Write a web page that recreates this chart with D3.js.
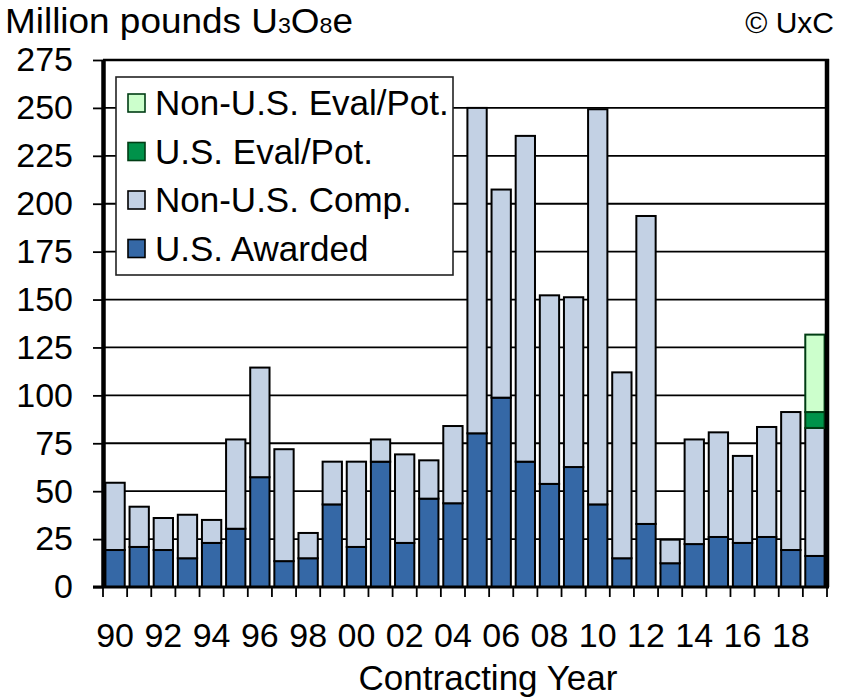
<!DOCTYPE html>
<html>
<head>
<meta charset="utf-8">
<script src="https://d3js.org/d3.v7.min.js"></script>
<style>
  body { margin: 0; background: #fff; }
  text { font-family: "Liberation Sans", Arial, sans-serif; fill: #000; }
</style>
</head>
<body>
<svg id="chart"></svg>
<script>
  // contracting years 1990-2019, values in million lbs U3O8e
  var years = d3.range(1990, 2020);
  var usAwarded = [19.3, 20.9, 19.3, 15, 23, 30.4, 57.3, 13.5, 15, 43.1,
                   20.9, 65.4, 23, 46.1, 43.7, 80.2, 98.8, 65.4, 53.8, 62.6,
                   43.1, 15, 32.9, 12.4, 22.4, 26.1, 23, 26.1, 19.3, 16.2];
  var nonUsComp = [35.1, 21, 16.7, 22.7, 12, 46.6, 57.2, 58.4, 13.2, 22.3,
                   44.5, 11.6, 46.2, 20, 40.3, 169.8, 108.6, 170, 98.4, 88.6,
                   206.2, 97, 160.7, 12.3, 54.6, 54.6, 45.4, 57.4, 72, 66.8];
  var usEval    = [0, 0, 0, 0, 0, 0, 0, 0, 0, 0, 0, 0, 0, 0, 0,
                   0, 0, 0, 0, 0, 0, 0, 0, 0, 0, 0, 0, 0, 0, 8.3];
  var nonUsEval = [0, 0, 0, 0, 0, 0, 0, 0, 0, 0, 0, 0, 0, 0, 0,
                   0, 0, 0, 0, 0, 0, 0, 0, 0, 0, 0, 0, 0, 0, 40.4];
  var yTicks = [0, 25, 50, 75, 100, 125, 150, 175, 200, 225, 250, 275];

  var series = [
    {key: "usAwarded", name: "U.S. Awarded",       fill: "#3568a6", stroke: "#000"},
    {key: "nonUsComp", name: "Non-U.S. Comp.",     fill: "#c3d1e4", stroke: "#000"},
    {key: "usEval",    name: "U.S. Eval/Pot.",     fill: "#00924a", stroke: "#003d14"},
    {key: "nonUsEval", name: "Non-U.S. Eval/Pot.", fill: "#ccffcc", stroke: "#003d14"}
  ];

  var W = 851, H = 697;
  var pLeft = 103, pRight = 827, pTop = 60, pBottom = 587;

  var svg = d3.select("#chart").attr("width", W).attr("height", H);

  var rows = years.map(function(yr, i) {
    return {year: yr, usAwarded: usAwarded[i], nonUsComp: nonUsComp[i],
            usEval: usEval[i], nonUsEval: nonUsEval[i]};
  });

  var x = d3.scaleBand()
    .domain(years)
    .range([pLeft, pRight])
    .paddingInner(0.2)
    .paddingOuter(0.1);
  var y = d3.scaleLinear()
    .domain([0, 275])
    .range([pBottom, pTop]);

  // gridlines
  svg.append("g").selectAll("line")
    .data(yTicks.filter(function(d) { return d > 0 && d < 275; }))
    .join("line")
      .attr("x1", pLeft).attr("x2", pRight)
      .attr("y1", function(d) { return y(d); })
      .attr("y2", function(d) { return y(d); })
      .attr("stroke", "#000")
      .attr("stroke-width", 1.8);

  // stacked bars
  var stacked = d3.stack().keys(series.map(function(s) { return s.key; }))(rows);
  svg.append("g").selectAll("g")
    .data(stacked)
    .join("g")
      .attr("fill", function(d, i) { return series[i].fill; })
      .attr("stroke", function(d, i) { return series[i].stroke; })
    .selectAll("rect")
    .data(function(d) { return d.filter(function(p) { return p[1] - p[0] > 0; }); })
    .join("rect")
      .attr("x", function(d) { return x(d.data.year); })
      .attr("width", x.bandwidth())
      .attr("y", function(d) { return y(d[1]); })
      .attr("height", function(d) { return y(d[0]) - y(d[1]); })
      .attr("stroke-width", 2);

  // frame: top and thick right border
  svg.append("line").attr("x1", pLeft).attr("x2", pRight + 2)
    .attr("y1", pTop).attr("y2", pTop)
    .attr("stroke", "#000").attr("stroke-width", 2.5);
  svg.append("line").attr("x1", pRight).attr("x2", pRight)
    .attr("y1", pTop - 1).attr("y2", pBottom)
    .attr("stroke", "#000").attr("stroke-width", 4.5);

  // y axis
  var yAxis = svg.append("g")
    .attr("transform", "translate(" + pLeft + ",0)")
    .call(d3.axisLeft(y).tickValues(yTicks).tickSize(10).tickSizeOuter(0).tickPadding(20));
  yAxis.select(".domain").attr("stroke-width", 4.5);
  yAxis.selectAll(".tick line").attr("stroke-width", 1.8);
  yAxis.selectAll(".tick text")
    .style("font-size", "34px")
    .attr("fill", "#000");

  // x axis: ticks on band boundaries, labels every other year
  var step = x.step();
  var xg = svg.append("g");
  xg.append("line")
    .attr("x1", pLeft - 10).attr("x2", pRight + 2)
    .attr("y1", pBottom).attr("y2", pBottom)
    .attr("stroke", "#000").attr("stroke-width", 3);
  xg.selectAll("line.tk")
    .data(years.concat([2020]))
    .join("line")
      .attr("class", "tk")
      .attr("x1", function(d, i) { return pLeft + i * step; })
      .attr("x2", function(d, i) { return pLeft + i * step; })
      .attr("y1", pBottom).attr("y2", pBottom + 10)
      .attr("stroke", "#000").attr("stroke-width", 1.8);
  xg.selectAll("text")
    .data(years.filter(function(d) { return d % 2 === 0; }))
    .join("text")
      .attr("x", function(d) { return x(d) + x.bandwidth() / 2; })
      .attr("y", 647)
      .attr("text-anchor", "middle")
      .style("font-size", "34px")
      .text(function(d) { return String(d).slice(2); });

  svg.append("text")
    .attr("x", 488).attr("y", 690)
    .attr("text-anchor", "middle")
    .style("font-size", "35px")
    .text("Contracting Year");

  // title and credit
  var title = svg.append("text").attr("x", 5).attr("y", 33)
    .attr("textLength", 348).attr("lengthAdjust", "spacingAndGlyphs")
    .style("font-size", "35px");
  title.append("tspan").text("Million pounds U");
  title.append("tspan").style("font-size", "22px").text("3");
  title.append("tspan").text("O");
  title.append("tspan").style("font-size", "22px").text("8");
  title.append("tspan").text("e");

  svg.append("text")
    .attr("x", 834).attr("y", 33)
    .attr("text-anchor", "end")
    .style("font-size", "30px")
    .text("\u00a9 UxC");

  // legend
  var lg = svg.append("g");
  lg.append("rect")
    .attr("x", 116).attr("y", 77).attr("width", 337).attr("height", 198)
    .attr("fill", "#fff").attr("stroke", "#222").attr("stroke-width", 1.6);
  var legendOrder = series.slice().reverse();
  var item = lg.selectAll("g.item")
    .data(legendOrder)
    .join("g")
      .attr("class", "item")
      .attr("transform", function(d, i) { return "translate(128," + (103 + i * 48.5) + ")"; });
  item.append("rect")
    .attr("x", 0).attr("y", -9).attr("width", 17).attr("height", 18)
    .attr("fill", function(d) { return d.fill; })
    .attr("stroke", function(d) { return d.stroke; })
    .attr("stroke-width", 1.6);
  item.append("text")
    .attr("x", 27).attr("y", 12)
    .style("font-size", "35px")
    .text(function(d) { return d.name; });
</script>
</body>
</html>
